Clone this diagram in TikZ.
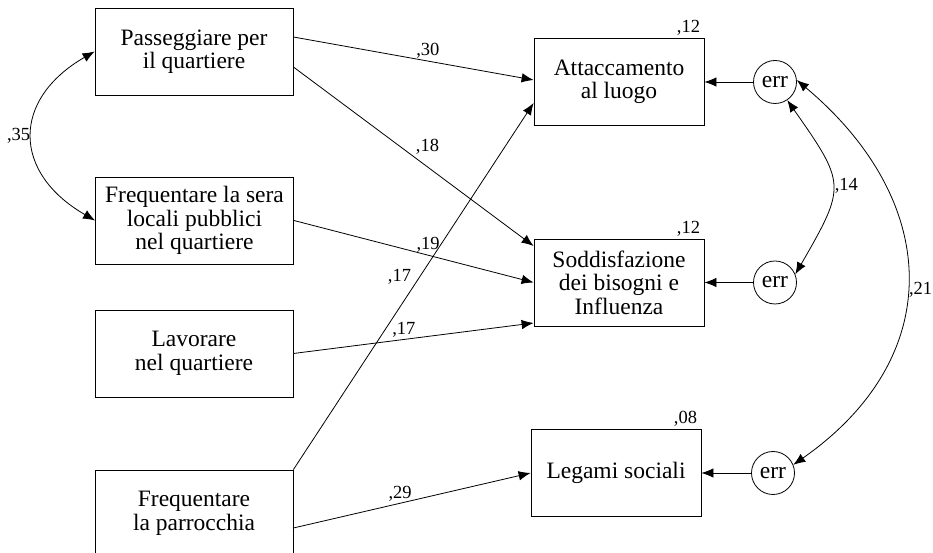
\documentclass[tikz,border=0pt]{standalone}
\usepackage{fontspec}
\setmainfont{Liberation Serif}
\usetikzlibrary{arrows.meta,positioning,calc}

\begin{document}
\begin{tikzpicture}[
    x=1pt, y=1pt, line width=0.8pt,
    box/.style={rectangle, draw, align=center, inner sep=2pt, font=\fontsize{23.5}{23.5}\selectfont},
    obs/.style={box, minimum width=198pt, minimum height=87pt},
    dep/.style={box, minimum width=170pt, minimum height=87pt},
    res/.style={circle, draw, inner sep=0pt, minimum size=43pt, font=\fontsize{23.5}{23.5}\selectfont},
    lbl/.style={inner sep=2pt, font=\fontsize{18.5}{18.5}\selectfont},
    arrow/.style={-{Latex[length=12pt, width=9.5pt]}},
    dbl/.style={{Latex[length=12pt, width=9.5pt]}-{Latex[length=12pt, width=9.5pt]}}
  ]
    \path[use as bounding box, clip] (0,0) rectangle (933,553);
    % observed variables
    \node[obs] (pass) at (194,501.5) {Passeggiare per\\il quartiere};
    \node[obs] (sera) at (194.5,332.5) {Frequentare la sera\\locali pubblici\\nel quartiere};
    \node[obs] (lav) at (194,199.5) {Lavorare\\nel quartiere};
    \node[obs] (par) at (194,39.5) {Frequentare\\la parrocchia};
    % outcomes
    \node[dep] (att) at (619,471) {Attaccamento\\al luogo};
    \node[dep] (sod) at (619,270.5) {Soddisfazione\\dei bisogni e\\Influenza};
    \node[dep] (leg) at (616,80) {Legami sociali};
    \node[res] (e1) at (775,471) {err};
    \node[res] (e2) at (775,270.5) {err};
    \node[res] (e3) at (773,80) {err};
    % explained variance
    \node[lbl, above left=0pt and 2pt of att.north east] (r2att) {,12};
    \node[lbl, above left=0pt and 2pt of sod.north east] (r2sod) {,12};
    \node[lbl, above left=0pt and 2pt of leg.north east] (r2leg) {,08};
    % paths
    \draw[arrow] ($(pass.east)+(0,14.5)$) -- node[lbl, pos=.56, above] (b30) {,30} ($(att.west)+(0,2)$);
    \draw[arrow] ($(pass.east)+(0,-15.5)$) -- node[lbl, pos=.5, above right] (b18) {,18} ($(sod.west)+(0,36.5)$);
    \draw[arrow] (sera.east) -- node[lbl, pos=.56, above] (b19) {,19} (sod.west);
    \draw[arrow] (lav.east) -- node[lbl, pos=.46, above] (b17b) {,17} ($(sod.west)+(0,-40.5)$);
    \draw[arrow] (par.north east) -- node[lbl, pos=.5, above left] (b17a) {,17} ($(att.west)+(0,-21)$);
    \draw[arrow] ($(par.east)+(0,-14.5)$) -- node[lbl, pos=.45, above] (b29) {,29} (leg.west);
    \draw[arrow] (e1) -- (att);
    \draw[arrow] (e2) -- (sod);
    \draw[arrow] (e3) -- (leg);
    % covariances
    \draw[dbl] (pass.west) to[out=210, in=150, looseness=1.45] node[lbl, left] (c35) {,35} (sera.west);
    \draw[dbl] (e1.-56) to[out=-55, in=60, looseness=1.5] node[lbl, right] (c14) {,14} (e2.22);
    \draw[dbl] (e1.5) to[out=-40, in=35, looseness=1.25] node[lbl, pos=.53, right] (c21) {,21} (e3.22);
\end{tikzpicture}
\end{document}
